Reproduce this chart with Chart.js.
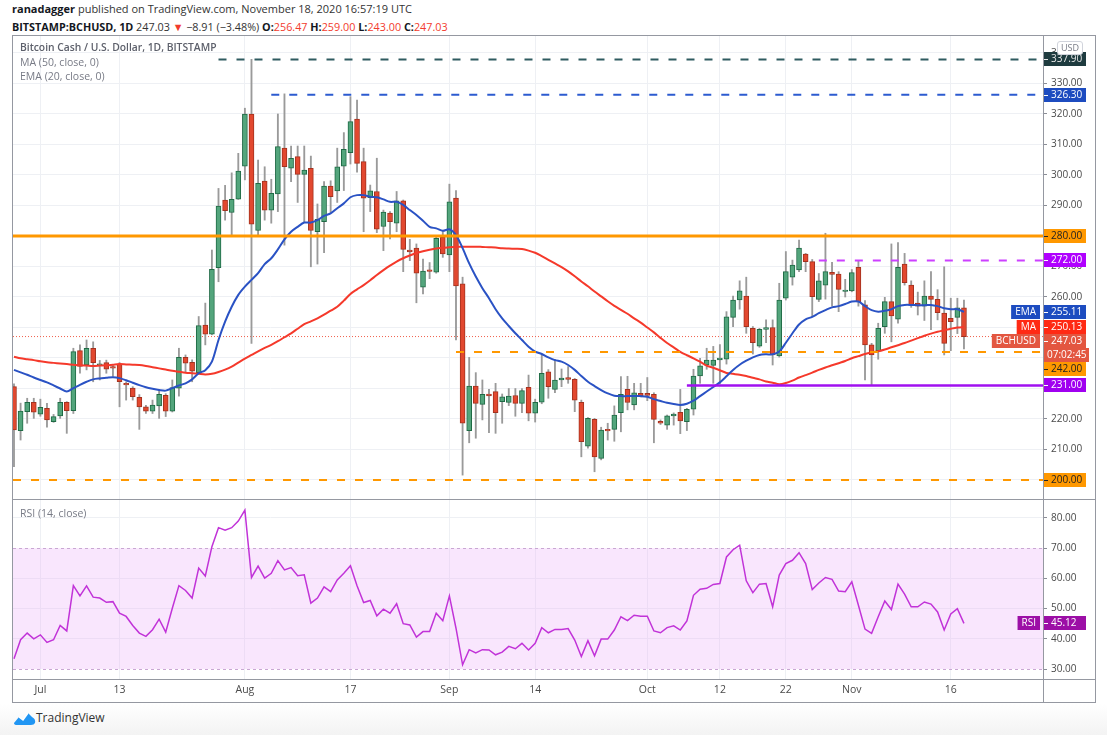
<!DOCTYPE html>
<html><head><meta charset="utf-8">
<script src="https://cdn.jsdelivr.net/npm/chart.js@4.4.1/dist/chart.umd.min.js"></script>
<style>
html,body{margin:0;padding:0;background:#fff;}
body{width:1107px;height:735px;position:relative;overflow:hidden;font-family:"Open Sans",sans-serif;color:#333;}
.abs{position:absolute;white-space:nowrap;}
#hdr1{left:12px;top:1px;font-size:11px;color:#333;}
#hdr2{left:12px;top:19px;font-size:10.8px;color:#333;}
b{font-weight:700;color:#131722;}
.r{color:#f23b2d;}
#frame{left:12px;top:35px;width:1084px;height:668px;box-sizing:border-box;border:1px solid #9598a1;z-index:5;}
.ln{position:absolute;background:#9598a1;z-index:5;}
#cMain{position:absolute;left:13px;top:36px;}
#cRsi{position:absolute;left:13px;top:500px;}
.ttl{position:absolute;left:20px;font-size:10.5px;color:#787b86;z-index:6;white-space:nowrap;}
#usd{left:1057px;top:41px;width:24px;height:12px;border:1px solid #d1d4dc;border-radius:3px;font-size:9px;color:#787b86;text-align:center;line-height:12px;background:#fff;z-index:6;}
#foot{left:0;top:704px;width:1107px;height:31px;background:linear-gradient(#ffffff,#f3f3f3);}
#logo{left:14px;top:711px;z-index:6;}
#logotxt{left:36px;top:709px;font-size:12px;color:#333;z-index:6;}
</style></head>
<body>
<div id="hdr1" class="abs"><b>ranadagger</b> published on TradingView.com, November 18, 2020 16:57:19 UTC</div>
<div id="hdr2" class="abs"><b>BITSTAMP:BCHUSD, 1D</b> 247.03 <span class="r">▼</span> −8.91 (−3.48%) <b>O:</b><span class="r">256.47</span> <b>H:</b><span class="r">259.00</span> <b>L:</b><span class="r">243.00</span> <b>C:</b><span class="r">247.03</span></div>
<div id="foot" class="abs"></div>
<canvas id="cMain" width="1082" height="463"></canvas>
<canvas id="cRsi" width="1082" height="202"></canvas>
<div id="frame" class="abs"></div>
<div class="ln" style="left:1043px;top:35px;width:1px;height:668px;"></div>
<div class="ln" style="left:12px;top:499px;width:1084px;height:1px;"></div>
<div class="ln" style="left:12px;top:679px;width:1084px;height:1px;"></div>
<div class="ttl" style="top:40px;font-size:10.3px;font-weight:600;color:#5d606b;">Bitcoin Cash / U.S. Dollar, 1D, BITSTAMP</div>
<div class="ttl" style="top:55px;">MA (50, close, 0)</div>
<div class="ttl" style="top:69px;">EMA (20, close, 0)</div>
<div class="ttl" style="top:506px;">RSI (14, close)</div>
<div id="usd" class="abs">USD</div>
<svg id="logo" class="abs" width="22" height="14" viewBox="0 0 22 14"><path d="M0 12 L5 6 L9 9 L14 2 L18 6 Q22 8 21 12 Q20 14 17 14 L3 14 Q0 14 0 12 Z" fill="#2196f3"/><path d="M5 6 L9 9 L14 2" stroke="#ffffff" stroke-width="1.4" fill="none"/></svg>
<div id="logotxt" class="abs">TradingView</div>
<script>
// ---------------- data ----------------
const startDate = '2020-06-27'; // index 0, one candle per day to 2020-11-18
const opens = [230.6,216.2,222.4,225.5,221.6,223.5,219.1,221.0,225.5,222.7,242.4,237.7,243.2,237.6,238.5,237.0,238.0,231.5,230.1,227.1,224.0,222.6,224.3,227.8,222.6,230.1,240.2,238.6,235.2,250.8,247.8,269.6,291.8,287.7,292.1,302.9,320.0,281.8,298.0,288.5,293.8,308.8,302.2,306.0,300.2,302.2,281.4,284.7,296.4,294.8,302.9,307.3,318.3,304.4,292.6,294.6,283.1,287.5,284.2,291.5,275.4,276.0,263.2,268.8,268.1,279.6,273.8,292.4,264.3,216.2,230.8,224.8,228.2,229.0,225.7,225.4,227.7,225.1,230.4,221.9,225.5,235.5,229.7,232.8,233.6,233.0,225.5,211.1,219.9,207.1,216.6,216.6,222.1,229.7,224.6,228.4,228.4,228.1,219.2,218.0,221.0,222.2,219.1,223.2,234.1,237.7,237.6,239.4,239.6,253.3,259.0,260.3,249.7,243.9,249.4,250.0,240.7,259.6,266.5,268.9,274.1,271.6,259.2,263.9,268.1,267.5,261.8,262.0,269.7,257.4,244.3,242.4,250.3,258.5,252.7,270.8,263.9,258.0,257.0,260.3,259.2,254.7,253.0,253.3,256.47];
const highs = [231.5,225.2,226.8,226.8,226.5,225.1,221.5,226.8,225.7,243.2,244.3,245.9,245.3,239.2,239.3,237.5,238.5,232.2,230.6,228.0,224.5,226.2,229.5,228.3,232.8,243.2,241.0,239.4,253.6,258.0,275.4,295.6,296.6,300.7,307.1,321.9,337.9,304.9,302.7,298.6,320.0,326.6,309.5,309.5,309.5,306.2,290.5,297.8,298.1,308.8,313.9,325.7,324.6,308.8,296.7,305.5,288.5,288.0,294.6,291.8,278.9,277.4,272.4,271.3,279.8,281.8,297.0,294.9,266.5,240.2,235.2,232.8,229.7,231.7,228.2,230.0,230.0,230.0,234.4,226.5,241.3,236.2,239.6,236.4,237.2,233.3,226.2,220.5,220.2,217.3,218.6,224.3,233.9,234.0,231.7,231.7,233.6,228.6,219.7,221.3,222.0,229.7,223.5,236.3,239.9,243.2,243.8,244.4,255.2,260.3,265.3,266.5,250.3,249.7,252.5,252.5,264.5,274.9,272.1,278.7,274.3,272.3,267.7,280.9,271.4,268.3,265.8,269.0,271.8,258.8,244.8,251.4,259.9,277.4,277.8,274.3,265.3,261.6,265.3,268.3,262.4,269.9,259.6,259.6,259.0];
const lows = [204.4,213.1,218.6,220.2,220.9,217.3,218.9,220.2,215.3,221.8,235.0,236.1,232.2,232.8,235.0,234.0,224.0,226.2,226.2,216.6,221.8,221.8,220.2,220.8,222.3,227.5,235.5,232.2,235.0,244.3,247.6,265.0,285.2,280.3,292.0,298.4,244.8,279.8,285.2,284.2,288.0,277.0,297.8,291.0,284.4,269.9,270.8,274.5,287.7,291.0,294.9,303.6,300.9,281.4,288.0,281.1,275.2,279.0,281.4,268.3,271.9,258.1,261.0,266.0,267.8,273.0,268.3,245.9,201.6,212.2,213.7,219.7,215.5,215.3,218.6,224.4,220.9,222.1,219.4,219.0,225.0,226.8,228.6,230.6,231.7,222.4,207.6,210.4,202.7,206.6,213.1,212.7,215.8,223.0,223.0,227.2,226.0,212.2,218.2,216.6,218.0,215.2,216.2,221.3,231.7,236.3,231.7,231.5,238.0,250.3,256.0,248.1,241.3,243.5,245.0,237.7,240.3,259.0,263.9,268.3,268.3,253.5,258.5,259.3,257.0,255.2,260.0,261.7,257.0,232.8,231.1,239.6,248.1,245.3,251.4,263.9,256.6,254.1,252.3,249.3,252.5,241.0,242.4,248.0,243.0];
const closes = [216.4,222.6,225.5,222.2,223.8,219.7,220.8,225.5,222.7,242.1,237.2,243.2,238.5,238.1,236.3,236.7,232.2,231.2,227.3,224.0,222.6,224.6,228.1,222.6,230.3,240.2,238.3,235.7,250.6,247.8,269.1,289.8,288.3,292.0,301.3,320.0,283.9,297.3,288.5,294.0,309.3,302.7,305.5,300.2,301.6,281.8,285.5,296.4,292.9,302.7,308.4,317.5,303.8,292.4,294.8,282.2,287.8,284.7,291.5,275.6,274.8,267.8,268.5,268.4,279.2,274.1,291.2,263.6,218.6,230.8,225.1,228.1,227.6,222.1,227.3,227.5,225.1,229.3,221.9,225.5,235.0,230.6,232.8,233.4,233.0,226.2,212.6,220.2,207.6,216.4,216.1,221.3,228.1,225.4,228.6,227.6,227.7,219.9,218.6,221.0,221.6,219.4,223.2,234.1,237.4,239.3,239.3,240.0,253.5,259.0,262.0,250.3,245.0,249.4,250.0,241.0,259.0,268.3,270.5,276.0,271.6,260.1,265.3,268.3,267.4,262.5,262.3,268.0,258.5,244.3,241.0,249.7,258.5,253.8,269.7,264.7,257.4,257.0,260.3,259.2,254.9,244.8,251.9,256.47,247.03];
const ema20 = [236.1,235.3,234.5,233.6,232.8,232.0,231.0,230.0,229.0,230.1,231.2,232.2,233.0,233.3,233.5,233.7,233.4,232.7,231.9,231.1,230.4,229.9,229.5,229.3,230.1,231.0,231.7,233.0,235.0,236.0,238.8,245.9,251.9,256.8,260.7,263.4,265.6,267.8,270.8,272.7,275.6,278.9,281.4,283.0,284.4,284.4,285.2,286.6,287.4,289.1,290.7,292.7,293.4,293.4,292.9,292.7,292.0,291.2,291.2,290.2,288.5,286.9,285.0,283.0,282.5,281.7,282.2,280.3,276.0,271.0,266.7,262.9,259.6,256.0,253.0,250.5,248.1,245.9,243.7,242.1,241.3,240.2,239.3,238.8,237.7,236.1,234.1,232.2,230.8,229.5,228.4,227.6,227.5,227.5,227.5,227.5,227.3,226.5,225.9,225.3,224.9,224.6,225.0,226.0,227.5,229.0,230.5,232.0,234.0,236.1,237.8,239.1,240.2,241.0,241.2,241.2,242.1,245.0,248.1,251.0,252.7,253.5,254.7,255.7,256.6,257.0,257.7,258.5,258.5,257.0,255.7,255.2,255.5,256.0,257.0,257.4,257.4,257.3,257.3,257.4,257.0,256.3,256.0,256.0,255.11];
const ma50 = [240.4,239.9,239.6,239.3,238.9,238.6,238.4,238.2,238.0,237.8,237.6,237.5,237.4,237.5,237.6,237.8,238.0,237.9,237.8,237.7,237.4,237.0,236.6,236.2,235.8,235.5,235.2,235.0,234.8,234.6,234.8,235.4,236.2,237.2,238.5,239.8,241.0,242.2,243.3,244.3,245.5,246.8,248.1,249.6,251.1,252.0,253.0,254.2,255.5,256.8,258.8,261.0,262.5,263.9,265.5,267.2,268.8,270.3,271.6,272.7,273.6,274.4,275.0,275.5,275.9,276.1,276.3,276.4,276.5,276.5,276.5,276.4,276.3,276.2,276.0,275.9,275.8,275.7,275.2,274.5,273.4,272.2,271.0,269.8,268.4,266.8,265.1,263.5,261.8,260.2,258.6,257.1,255.8,254.5,253.0,251.6,250.0,248.4,246.6,244.9,243.5,242.0,240.9,239.9,238.8,237.5,236.8,236.0,235.1,234.8,234.5,234.1,233.5,233.0,232.3,231.9,231.4,231.8,232.6,233.6,234.4,235.2,236.1,236.9,237.6,238.3,239.0,239.9,240.6,241.3,241.8,242.2,242.8,243.5,244.2,244.9,245.7,246.5,247.3,248.0,248.6,249.1,249.6,250.0,250.13];
const rsi14 = [33.4,39.7,41.9,40.0,41.3,38.8,39.7,44.4,42.6,57.6,54.2,57.5,53.8,53.5,52.1,52.3,48.5,47.4,44.4,41.9,40.8,43.0,46.5,42.2,50.1,57.6,56.0,53.5,63.4,60.8,70.5,76.8,76.0,76.8,79.0,82.6,60.3,64.1,60.1,61.7,65.9,62.8,63.6,60.9,61.2,51.8,53.5,57.2,55.6,59.5,61.7,64.2,57.6,52.0,52.7,47.6,49.8,48.5,51.6,45.0,44.6,40.6,42.4,42.4,48.5,46.0,54.2,43.5,31.4,36.4,35.3,36.4,36.3,34.7,35.6,37.5,36.7,38.5,36.3,38.5,43.7,42.0,43.1,43.1,43.4,39.6,34.1,39.4,34.4,39.9,39.9,42.9,47.3,46.0,47.8,47.5,47.5,42.6,42.0,43.7,44.3,42.9,45.9,54.4,56.4,56.7,58.0,58.3,67.1,69.5,71.0,59.2,55.3,58.1,58.3,50.6,61.1,64.9,66.0,68.5,64.9,56.3,58.5,60.3,59.7,55.8,55.6,58.9,51.1,43.2,41.8,47.3,52.5,49.7,58.1,54.8,50.6,50.6,52.2,51.5,48.9,42.9,48.2,50.0,45.12];
const xTickIdx = [4,16,35,51,66,79,96,107,117,127,142];
const xTickLabels = ['Jul','13','Aug','17','Sep','14','Oct','12','22','Nov','16'];
const priceTicks = [200,210,220,230,240,250,260,270,280,290,300,310,320,330,340];
const rsiTicks = [30,40,50,60,70,80];
const levelPrices = [337.9, 326.3, 280, 272, 242, 231, 200];
const levelStartIdx = [31, 39, null, 122, 67, 102, null];
const lastClose = 247.03;
const countdownText = '07:02:45';

// ---------------- view settings (styles / ranges) ----------------
const X_MIN = -0.15, X_MAX = 155.98;
const P_MIN = 193.77, P_MAX = 345.57;
const R_MIN = 26.69, R_MAX = 85.96;
const levelStyles = [
  {color:'#2f5b60', width:2, dash:[8,10], box:'#1e3b3f', fg:'#e8e8e8'},
  {color:'#2c5bd0', width:2, dash:[8,10], box:'#1d4cc0', fg:'#ffffff'},
  {color:'#ff9800', width:3, dash:[],     box:'#ff9800', fg:'#222222'},
  {color:'#cc40ff', width:2, dash:[8,10], box:'#b000ff', fg:'#ffffff'},
  {color:'#ff9800', width:2, dash:[8,10], box:'#ff9800', fg:'#222222'},
  {color:'#a010f0', width:2.5, dash:[],   box:'#a000f0', fg:'#ffffff'},
  {color:'#ff9800', width:2, dash:[8,10], box:'#ff9800', fg:'#222222'}
];
const UP = '#53a57c', UP_B = '#1f6a45', DN = '#e2482f', DN_B = '#a3321f', WICK = '#9a9a9a';
const GRID = '#eef0f4', AXIS_TXT = '#4a4a4a';
const FONT = '"Open Sans", sans-serif';
Chart.defaults.font.family = FONT;

const idx = closes.map((_, i) => i);
const pts = arr => arr.map((v, i) => ({x: i, y: v}));

const datasets = [];
datasets.push({type:'bar', label:'wick', data: idx.map(i => ({x:i, y:[lows[i], highs[i]]})),
  backgroundColor: WICK, borderWidth:0, barThickness:1.2, grouped:false, order:20});
datasets.push({type:'bar', label:'body', data: idx.map(i => ({x:i, y:[opens[i], closes[i]]})),
  backgroundColor: idx.map(i => closes[i] >= opens[i] ? UP : DN),
  borderColor: idx.map(i => closes[i] >= opens[i] ? UP_B : DN_B),
  borderWidth:1, borderSkipped:false, barThickness:5, grouped:false, minBarLength:1.5, order:19});
datasets.push({type:'line', label:'price', data:[{x:X_MIN,y:lastClose},{x:X_MAX,y:lastClose}],
  borderColor:'#f0604c', borderWidth:1, borderDash:[1,2], pointRadius:0, order:25});
datasets.push({type:'line', label:'MA', data: pts(ma50), borderColor:'#f5392b', borderWidth:2,
  pointRadius:0, tension:0.3, order:6});
datasets.push({type:'line', label:'EMA', data: pts(ema20), borderColor:'#2a52c4', borderWidth:2,
  pointRadius:0, tension:0.3, order:5});
levelPrices.forEach((p, k) => {
  const st = levelStyles[k];
  const from = levelStartIdx[k] === null ? X_MIN : levelStartIdx[k];
  datasets.push({type:'line', label:'lvl'+k, data:[{x:from,y:p},{x:X_MAX,y:p}],
    borderColor: st.color, borderWidth: st.width, borderDash: st.dash, pointRadius:0, order:2});
});

function resolveBoxes(items, H){
  items.sort((a,b)=>a.py-b.py);
  for(let i=1;i<items.length;i++){
    const prev = items[i-1];
    const minY = prev.py + H * (prev.sub ? 2 : 1);
    if(items[i].py < minY) items[i].py = minY;
  }
  return items;
}
function drawBoxes(chart, items){
  const {ctx, chartArea} = chart;
  const H = 14;
  ctx.save();
  ctx.font = '10px ' + FONT;
  ctx.textBaseline = 'middle';
  resolveBoxes(items, H).forEach(it => {
    const x0 = chartArea.right + 1;
    const y0 = Math.round(it.py - H/2);
    ctx.fillStyle = it.bg;
    ctx.fillRect(x0, y0, 42, H);
    ctx.fillStyle = it.fg;
    ctx.fillRect(x0, Math.round(it.py), 4, 1);
    ctx.textAlign = 'left';
    ctx.fillText(it.text, chartArea.right + 8, y0 + H/2 + 0.5);
    if(it.name){
      const w = ctx.measureText(it.name).width + 8;
      const xr = chartArea.right - 3;
      ctx.fillStyle = it.nameBg || it.bg;
      ctx.fillRect(xr - w, y0, w, H);
      ctx.fillStyle = '#ffffff';
      ctx.textAlign = 'right';
      ctx.fillText(it.name, xr - 4, y0 + H/2 + 0.5);
    }
    if(it.sub){
      ctx.fillStyle = it.bg;
      ctx.fillRect(chartArea.right, y0 + H, 46, H);
      ctx.fillStyle = '#ffffff';
      ctx.textAlign = 'left';
      ctx.fillText(it.sub, chartArea.right + 4, y0 + H + H/2 + 0.5);
    }
  });
  ctx.restore();
}

const mainBoxes = {
  id:'mainBoxes',
  afterDraw(chart){
    const ys = chart.scales.y;
    const items = levelPrices.map((p,k)=>({py: ys.getPixelForValue(p), bg: levelStyles[k].box, fg: levelStyles[k].fg, text: p.toFixed(2)}));
    items.push({py: ys.getPixelForValue(ema20[ema20.length-1]), bg:'#1d4cc0', fg:'#fff', text: ema20[ema20.length-1].toFixed(2), name:'EMA'});
    items.push({py: ys.getPixelForValue(ma50[ma50.length-1]), bg:'#ff2a14', fg:'#fff', text: ma50[ma50.length-1].toFixed(2), name:'MA'});
    items.push({py: ys.getPixelForValue(lastClose), bg:'#e35640', fg:'#fff', text: lastClose.toFixed(2), name:'BCHUSD', sub: countdownText});
    drawBoxes(chart, items);
  }
};

const commonX = (showLabels) => ({
  type:'linear', min:X_MIN, max:X_MAX, offset:false,
  grid:{color:GRID, drawTicks:false, offset:false},
  border:{display:false},
  afterBuildTicks(s){ s.ticks = xTickIdx.map(v=>({value:v})); },
  ticks:{display:showLabels, autoSkip:false, maxRotation:0, padding:5, color:AXIS_TXT,
    font:{size:10.5, family:FONT},
    callback(v){ const k = xTickIdx.indexOf(v); return k >= 0 ? xTickLabels[k] : ''; }},
  afterFit(s){ s.paddingLeft = 0; s.paddingRight = 0; s.height = showLabels ? 23 : 0; }
});

new Chart(document.getElementById('cMain'), {
  type:'bar',
  data:{datasets},
  options:{
    responsive:false, animation:false, events:[],
    layout:{padding:0},
    plugins:{legend:{display:false}, tooltip:{enabled:false}},
    scales:{
      x: commonX(false),
      y:{type:'linear', position:'right', min:P_MIN, max:P_MAX,
        grid:{color:GRID, tickColor:'#8a8d96', tickLength:4},
        border:{display:false},
        afterBuildTicks(s){ s.ticks = priceTicks.map(v=>({value:v})); },
        ticks:{color:AXIS_TXT, padding:4, font:{size:10, family:FONT}, callback:v=>v.toFixed(2)},
        afterFit(s){ s.width = 52; s.paddingTop = 0; s.paddingBottom = 0; }
      }
    }
  },
  plugins:[mainBoxes]
});

const rsiBand = {
  id:'rsiBand',
  beforeDatasetsDraw(chart){
    const {ctx, chartArea} = chart; const ys = chart.scales.y;
    const y70 = ys.getPixelForValue(70), y30 = ys.getPixelForValue(30);
    ctx.save();
    ctx.fillStyle = 'rgba(236,178,250,0.33)';
    ctx.fillRect(chartArea.left, y70, chartArea.right-chartArea.left, y30-y70);
    ctx.strokeStyle = '#c9a7d3'; ctx.lineWidth = 1; ctx.setLineDash([3,3]);
    [y70, y30].forEach(y => { ctx.beginPath(); ctx.moveTo(chartArea.left, Math.round(y)+0.5); ctx.lineTo(chartArea.right, Math.round(y)+0.5); ctx.stroke(); });
    ctx.restore();
  },
  afterDraw(chart){
    const ys = chart.scales.y; const v = rsi14[rsi14.length-1];
    drawBoxes(chart, [{py: ys.getPixelForValue(v), bg:'#9c0fa6', fg:'#fff', text:v.toFixed(2), name:'RSI'}]);
  }
};

new Chart(document.getElementById('cRsi'), {
  type:'line',
  data:{datasets:[{label:'RSI', data: pts(rsi14), borderColor:'#c133d8', borderWidth:1.5, pointRadius:0, tension:0}]},
  options:{
    responsive:false, animation:false, events:[],
    layout:{padding:0},
    plugins:{legend:{display:false}, tooltip:{enabled:false}},
    scales:{
      x: commonX(true),
      y:{type:'linear', position:'right', min:R_MIN, max:R_MAX,
        grid:{color: c => (c.tick && (c.tick.value === 30 || c.tick.value === 70)) ? 'rgba(0,0,0,0)' : GRID, tickColor:'#8a8d96', tickLength:4},
        border:{display:false},
        afterBuildTicks(s){ s.ticks = rsiTicks.map(v=>({value:v})); },
        ticks:{color:AXIS_TXT, padding:4, font:{size:10, family:FONT}, callback:v=>v.toFixed(2)},
        afterFit(s){ s.width = 52; s.paddingTop = 0; s.paddingBottom = 0; }
      }
    }
  },
  plugins:[rsiBand]
});
</script>
</body></html>
